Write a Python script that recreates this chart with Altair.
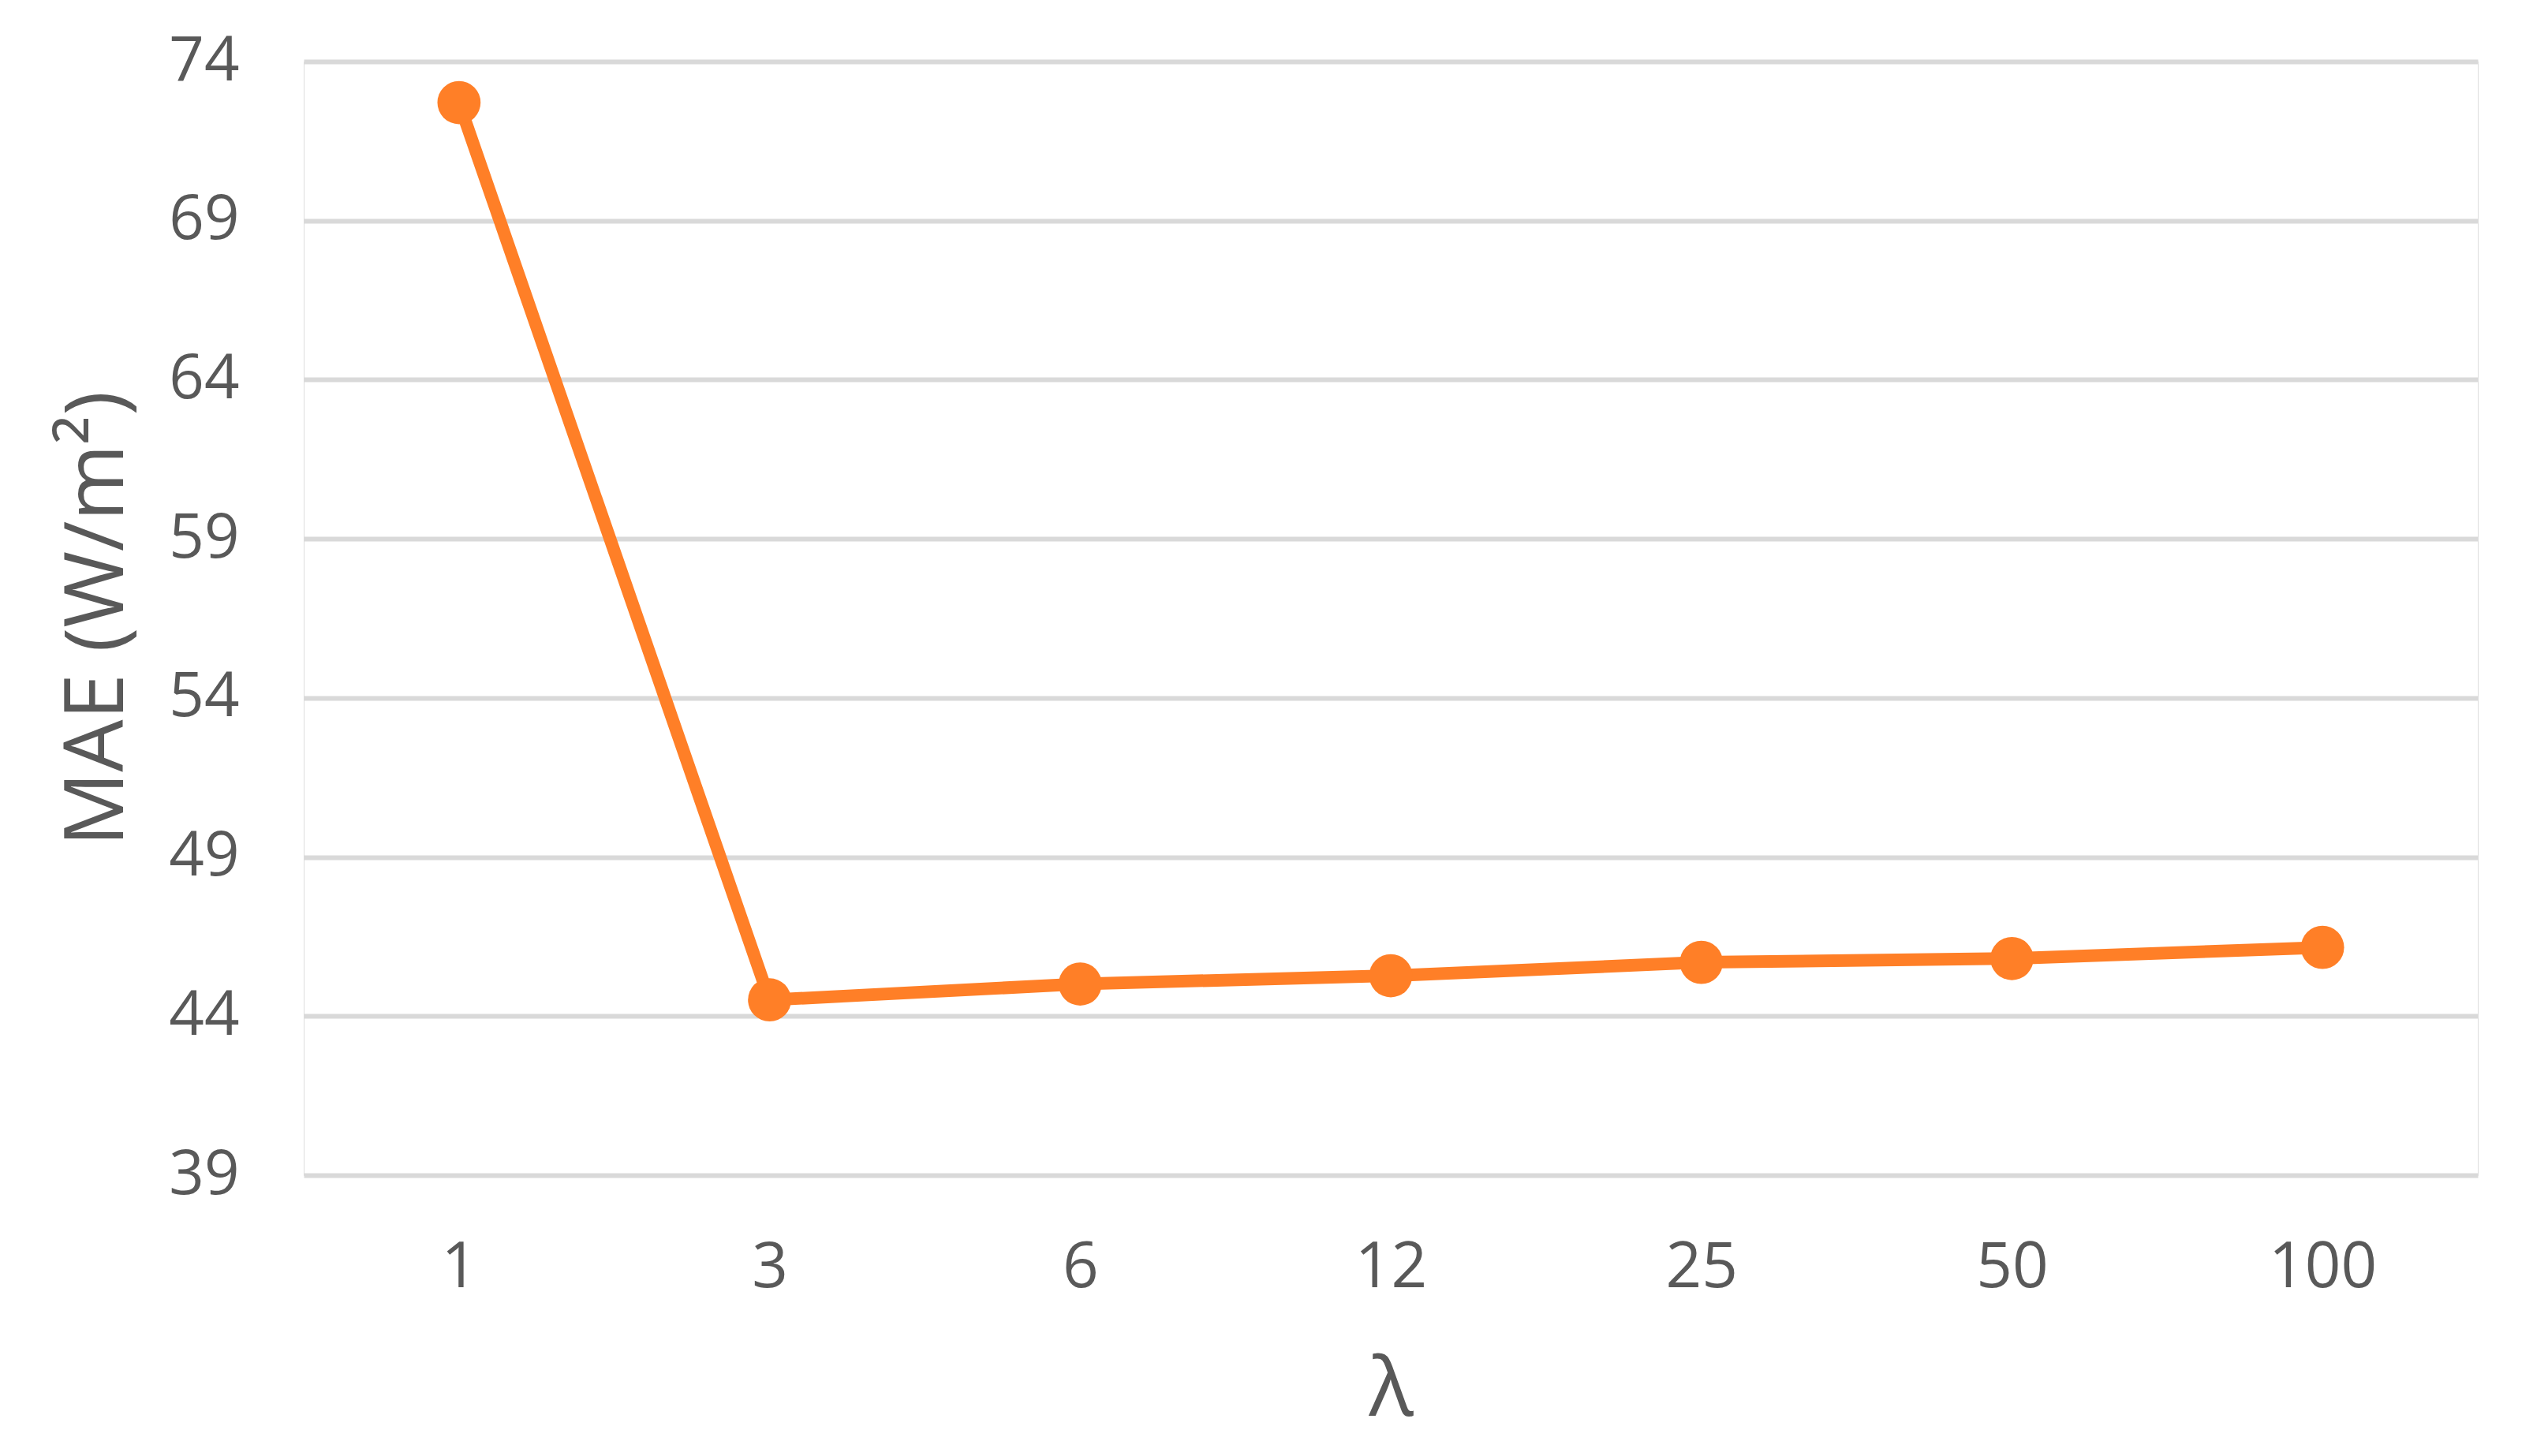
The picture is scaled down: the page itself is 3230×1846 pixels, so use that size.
import altair as alt
import pandas as pd

lambdas = ["1", "3", "6", "12", "25", "50", "100"]
mae = [72.71, 44.51, 45.01, 45.27, 45.69, 45.81, 46.16]
y_ticks = [39, 44, 49, 54, 59, 64, 69, 74]

df = pd.DataFrame({"lam": lambdas, "mae": mae})

ORANGE = "#FF7F27"
TEXT = "#595959"
FONT = "Open Sans"

x_enc = alt.X(
    "lam:N",
    sort=lambdas,
    scale=alt.Scale(type="point", padding=0.5),
    axis=alt.Axis(
        title="λ",
        labelAngle=0,
        labelFont=FONT,
        labelFontSize=80,
        labelColor=TEXT,
        labelBaseline="middle",
        labelPadding=117,
        ticks=False,
        tickSize=0,
        domain=False,
        grid=False,
        titleFont=FONT,
        titleFontSize=105,
        titleFontWeight="normal",
        titleColor=TEXT,
        titleBaseline="middle",
        titleAlign="center",
        titleX=1378,
        titleY=272,
    ),
)
y_enc = alt.Y(
    "mae:Q",
    scale=alt.Scale(domain=[39, 74], nice=False, zero=False),
    axis=alt.Axis(
        title="MAE (W/m²)",
        values=y_ticks,
        labelFont=FONT,
        labelFontSize=78,
        labelColor=TEXT,
        labelPadding=82,
        ticks=False,
        tickSize=0,
        domain=False,
        grid=True,
        gridColor="#D9D9D9",
        gridWidth=6,
        titleFont=FONT,
        titleFontSize=105,
        titleFontWeight="normal",
        titleColor=TEXT,
        titleAngle=-90,
        titleBaseline="middle",
        titleAlign="center",
        titleX=-262,
        titleY=706,
    ),
)

line = alt.Chart(df).mark_line(color=ORANGE, strokeWidth=16).encode(x=x_enc, y=y_enc)
points = alt.Chart(df).mark_point(filled=True, color=ORANGE, size=3000, opacity=1).encode(x=x_enc, y=y_enc)

chart = (
    alt.layer(line, points)
    .properties(
        width=2756,
        height=1412,
        autosize=alt.AutoSizeParams(type="none"),
        padding={"left": 377, "top": 70, "right": 60, "bottom": 346},
    )
    .configure_view(stroke="transparent", strokeWidth=0)
    .configure_axisX(grid=False, domain=False, ticks=False)
    .configure(background="white")
)

chart.save("out.html", embed_options={"renderer": "svg", "actions": False})
